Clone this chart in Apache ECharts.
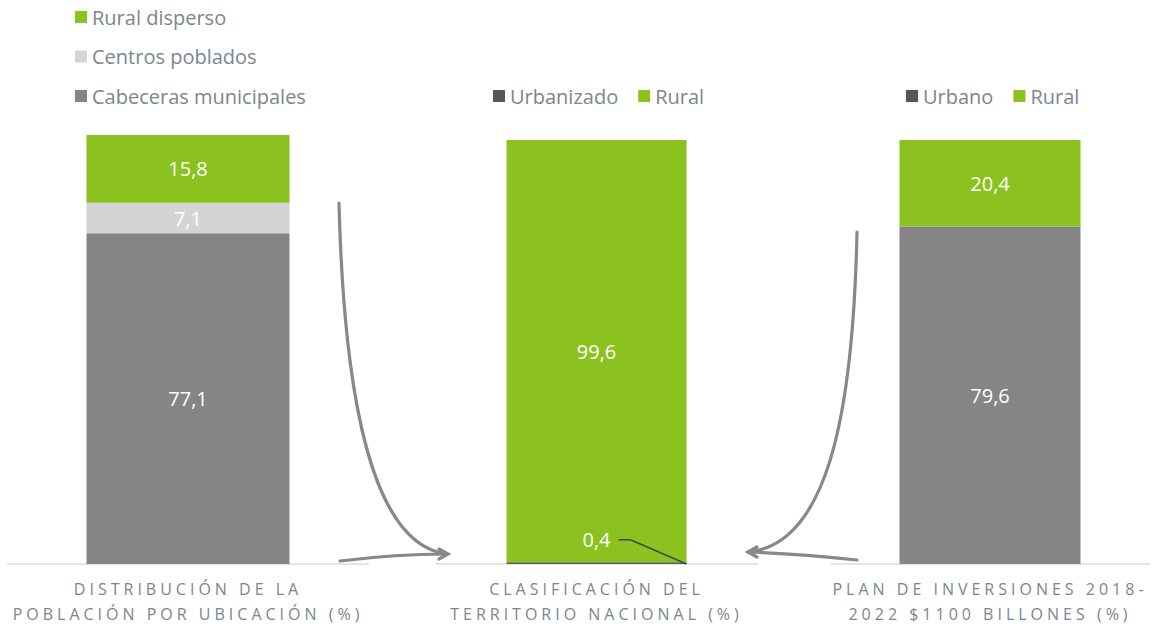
<!DOCTYPE html>
<html><head><meta charset="utf-8">
<script src="https://cdn.jsdelivr.net/npm/echarts@6/dist/echarts.min.js"></script>
<style>
html,body{margin:0;padding:0;background:#fff;}
#c{width:1157px;height:626px;}
#c text[style*="16px"]{letter-spacing:4px;}
</style></head><body><div id="c"></div>
<script>
const categories = ['DISTRIBUCIÓN DE LA\nPOBLACIÓN POR UBICACIÓN (%)', 'CLASIFICACIÓN DEL\nTERRITORIO NACIONAL (%)', 'PLAN DE INVERSIONES 2018-\n2022 $1100 BILLONES (%)'];
const poblacionNames = ['Cabeceras municipales', 'Centros poblados', 'Rural disperso'];
const poblacionValues = [77.1, 7.1, 15.8];
const territorioNames = ['Urbanizado', 'Rural'];
const territorioValues = [0.4, 99.6];
const inversionNames = ['Urbano', 'Rural'];
const inversionValues = [79.6, 20.4];

const GREEN = '#8bc220', GREY = '#858585', LIGHT = '#d4d4d4', DARK = '#575757';
const FONT = "'Open Sans', 'Noto Sans', sans-serif";
const TXT = '#7b8690';
const fmt = p => String(p.value).replace('.', ',');
const barWidths = [203, 180, 181];

const chart = echarts.init(document.getElementById('c'), null, {renderer: 'svg'});

const grids = [
  {left: 8, width: 360, top: 135, height: 430},
  {left: 436, width: 321, top: 140, height: 425},
  {left: 831, width: 318, top: 140, height: 425}
];
const xAxes = categories.map((c, i) => ({
  type: 'category', gridIndex: i, data: [c],
  axisLine: {show: true, lineStyle: {color: '#e4e4e4', width: 2}},
  axisTick: {show: false},
  axisLabel: {color: TXT, fontFamily: FONT, fontSize: 16, lineHeight: 25, margin: 12, interval: 0}
}));
const yAxes = [0, 1, 2].map(i => ({type: 'value', gridIndex: i, min: 0, max: 100, show: false, splitLine: {show: false}}));

const labelBase = {show: true, color: '#fff', fontFamily: FONT, fontSize: 20, formatter: fmt};
const colors0 = [GREY, LIGHT, GREEN];
const series = [];
poblacionNames.forEach((n, i) => series.push({
  type: 'bar', name: n, stack: 'p', xAxisIndex: 0, yAxisIndex: 0, barWidth: barWidths[0],
  itemStyle: {color: colors0[i]}, label: labelBase, data: [poblacionValues[i]]
}));
const colors1 = [DARK, GREEN];
territorioNames.forEach((n, i) => series.push({
  type: 'bar', name: n, stack: 't', xAxisIndex: 1, yAxisIndex: 1, barWidth: barWidths[1],
  itemStyle: {color: colors1[i]},
  label: i === 0 ? Object.assign({}, labelBase, {position: 'top', offset: [0, -7.5]}) : labelBase,
  data: [territorioValues[i]]
}));
const colors2 = [GREY, GREEN];
inversionNames.forEach((n, i) => series.push({
  type: 'bar', name: n, stack: 'i', xAxisIndex: 2, yAxisIndex: 2, barWidth: barWidths[2],
  itemStyle: {color: colors2[i]}, label: labelBase, data: [inversionValues[i]]
}));

const legendCommon = {itemWidth: 12, itemHeight: 12, icon: 'rect', textStyle: {color: TXT, fontFamily: FONT, fontSize: 20}, selectedMode: false};
const arrowStyle = {stroke: '#888', lineWidth: 3.2, fill: null, lineCap: 'round'};

chart.setOption({
  animation: false,
  backgroundColor: '#fff',
  grid: grids,
  xAxis: xAxes,
  yAxis: yAxes,
  legend: [
    Object.assign({}, legendCommon, {orient: 'vertical', left: 70, top: 2, itemGap: 19.5,
      data: poblacionNames.slice().reverse()}),
    Object.assign({}, legendCommon, {orient: 'horizontal', left: 488, top: 81, itemGap: 20,
      data: [{name: territorioNames[0], itemStyle: {color: DARK}}, territorioNames[1]]}),
    Object.assign({}, legendCommon, {orient: 'horizontal', left: 901, top: 81, itemGap: 20,
      data: [{name: inversionNames[0], itemStyle: {color: DARK}}, inversionNames[1]]})
  ],
  series: series
});

// leader line for the small value, from the library's scales
const basePt = chart.convertToPixel({xAxisIndex: 1, yAxisIndex: 1}, [categories[1], 0]);
const topPt = chart.convertToPixel({xAxisIndex: 1, yAxisIndex: 1}, [categories[1], territorioValues[0]]);
const ly = topPt[1] - 5 - 10 - 7.5;
const cx = basePt[0];

chart.setOption({
  graphic: [
    {type: 'polyline', shape: {points: [[cx + 22, ly], [cx + 34, ly], [cx + barWidths[1] / 2, basePt[1]]]},
      style: {stroke: '#444', lineWidth: 1.5, fill: null}, z: 10},
    {type: 'bezierCurve', shape: {x1: 339, y1: 203, cpx1: 344, cpy1: 400, cpx2: 372, cpy2: 545, x2: 447, y2: 554}, style: arrowStyle, z: 5},
    {type: 'bezierCurve', shape: {x1: 340, y1: 561, cpx1: 380, cpy1: 556, cpx2: 420, cpy2: 554, x2: 447, y2: 554}, style: arrowStyle, z: 5},
    {type: 'polyline', shape: {points: [[439, 549], [448, 554], [439, 559]]}, style: arrowStyle, z: 5},
    {type: 'bezierCurve', shape: {x1: 857, y1: 232, cpx1: 853, cpy1: 420, cpx2: 826, cpy2: 545, x2: 748, y2: 552}, style: arrowStyle, z: 5},
    {type: 'bezierCurve', shape: {x1: 857, y1: 560, cpx1: 820, cpy1: 556, cpx2: 780, cpy2: 553, x2: 748, y2: 552}, style: arrowStyle, z: 5},
    {type: 'polyline', shape: {points: [[757, 547], [748, 552], [757, 557]]}, style: arrowStyle, z: 5}
  ]
});
</script></body></html>
